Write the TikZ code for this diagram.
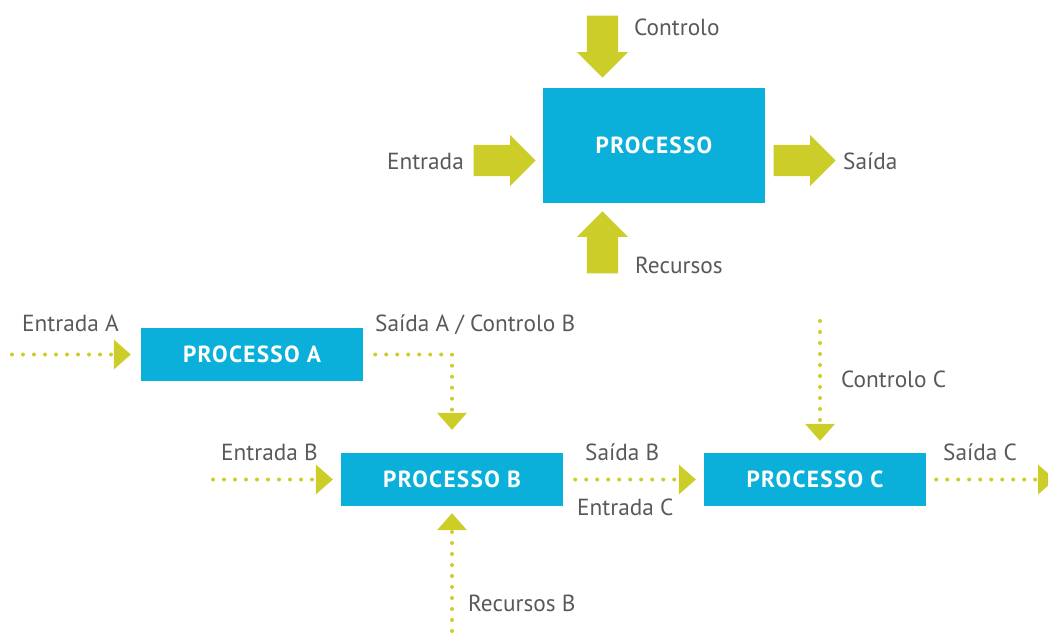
\documentclass[tikz,border=0pt]{standalone}
\usepackage{fontspec}
\setmainfont{PT Sans}
\usetikzlibrary{arrows.meta,shapes.arrows}
\definecolor{procblue}{HTML}{0AB0DA}
\definecolor{flowgreen}{HTML}{CCCD29}
\definecolor{labelgray}{HTML}{595959}

\begin{document}
\begin{tikzpicture}[x=1pt,y=-1pt,
  procbox/.style={fill=procblue, text=white,
    font=\fontsize{23.3}{27}\selectfont\bfseries\addfontfeature{LetterSpace=5.5},
    inner sep=0pt, minimum width=222pt},
  bigarrow/.style={single arrow, fill=flowgreen, draw=none, anchor=tip,
    inner xsep=0pt, inner ysep=15.5pt, minimum height=62pt,
    single arrow head extend=10pt, single arrow tip angle=90},
  flow/.style={draw=flowgreen, line width=4pt, line cap=round, dash pattern=on 0pt off 11pt,
    -{Triangle[width=30pt,length=17pt,line width=0pt,fill=flowgreen]}},
  lbl/.style={text=labelgray, font=\fontsize{23.3}{27}\selectfont, inner sep=0pt}]

\useasboundingbox (0,0) rectangle (1048,632);

% ---- single process with its four block arrows ----
\node[procbox, minimum height=115pt] (P) at (654,145.5) {PROCESSO};

% block arrows, placed by their tips
\node[bigarrow, rotate=-90] (ctl) at (602.5,78) {};
\node[bigarrow] (ent) at (536,160.5) {};
\node[bigarrow] (sai) at (836,160.5) {};
\node[bigarrow, rotate=90] (rec) at (602.5,211) {};

\node[lbl, anchor=base west] (lctl) at (634,35) {Controlo};
\node[lbl, anchor=base east] (lent) at (464,169) {Entrada};
\node[lbl, anchor=base west] (lsai) at (843,169) {Saída};
\node[lbl, anchor=base west] (lrec) at (635,273) {Recursos};

% ---- chained processes ----
\node[procbox, minimum height=53pt] (A) at (252,354.5) {PROCESSO A};
\node[procbox, minimum height=53pt] (B) at (452,479.5) {PROCESSO B};
\node[procbox, minimum height=53pt] (C) at (815,479.5) {PROCESSO C};

\coordinate (inA) at (12,354.5);
\coordinate (inB) at (213,479.5);
\coordinate (ctlC) at (820,321);
\coordinate (outC) at (1055,479.5);
\coordinate (recB) at (452,642);

\draw[flow, shorten >=10pt] (inA) -- (A.west);
\draw[flow, shorten <=12pt, shorten >=23pt] (A.east) -| (B.north);
\draw[flow, shorten >=8pt] (inB) -- (B.west);
\draw[flow, shorten <=12pt, shorten >=8pt] (B.east) -- (C.west);
\draw[flow, shorten >=12pt] (ctlC) -- (ctlC |- C.north);
\draw[flow, shorten <=10pt] (C.east) -- (outC);
\draw[flow, shorten >=7pt] (recB) -- (B.south);

\node[lbl, anchor=base west] (lentA) at (22,331) {Entrada A};
\node[lbl, anchor=base west] (lsaiA) at (375,331) {Saída A / Controlo B};
\node[lbl, anchor=base west] (lentB) at (221,460) {Entrada B};
\node[lbl, anchor=base west] (lsaiB) at (585,460) {Saída B};
\node[lbl, anchor=base west] (lentC) at (577,515) {Entrada C};
\node[lbl, anchor=base west] (lsaiC) at (943,460) {Saída C};
\node[lbl, anchor=base west] (lctlC) at (841,387) {Controlo C};
\node[lbl, anchor=base west] (lrecB) at (468,611) {Recursos B};
\end{tikzpicture}
\end{document}
